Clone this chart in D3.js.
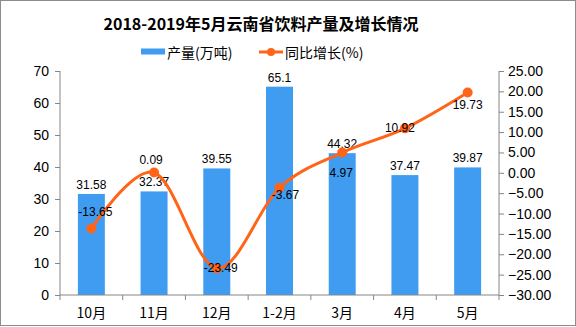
<!DOCTYPE html>
<html><head><meta charset="utf-8">
<script src="https://cdn.jsdelivr.net/npm/d3@7"></script>
<style>
body{margin:0;background:#fff;}
svg{display:block;}
text{font-family:"Liberation Sans","Noto Sans CJK SC",sans-serif;fill:#000;}
</style></head>
<body>
<svg id="c" width="576" height="327"></svg>
<script>
const title = "2018-2019年5月云南省饮料产量及增长情况";
const categories = ["10月","11月","12月","1-2月","3月","4月","5月"];
const output = [31.58, 32.37, 39.55, 65.1, 44.32, 37.47, 39.87];
const growth = [-13.65, 0.09, -23.49, -3.67, 4.97, 10.92, 19.73];
const leftTicks = [0,10,20,30,40,50,60,70];
const rightTicks = [-30,-25,-20,-15,-10,-5,0,5,10,15,20,25];
const seriesNames = ["产量(万吨)","同比增长(%)"];

const svg = d3.select("#c");
const L = 60, R = 499, T = 71, B = 295;
const barColor = "#3F9CF0", lineColor = "#FF6418", axisColor = "#868686";

svg.append("rect").attr("x",0.5).attr("y",0.5).attr("width",575).attr("height",325)
  .attr("fill","#fff").attr("stroke","#8c8c8c");

const x = d3.scaleBand().domain(categories).range([L,R]).padding(0);
const yL = d3.scaleLinear().domain([0,70]).range([B,T]);
const yR = d3.scaleLinear().domain([-30,25]).range([B,T]);

// title
svg.append("text").attr("x",261).attr("y",23).attr("text-anchor","middle")
  .attr("dominant-baseline","central").style("font-family","'Noto Sans CJK SC',sans-serif")
  .style("font-size","16px").style("font-weight","bold").text(title);

// legend
const lg = svg.append("g");
lg.append("rect").attr("x",141).attr("y",48.5).attr("width",24).attr("height",6).attr("fill",barColor);
lg.append("text").attr("x",167).attr("y",52).attr("dominant-baseline","central")
  .style("font-family","'Noto Sans CJK SC',sans-serif").style("font-size","14px").text(seriesNames[0]);
lg.append("line").attr("x1",259).attr("x2",283).attr("y1",52).attr("y2",52)
  .attr("stroke",lineColor).attr("stroke-width",3);
lg.append("circle").attr("cx",271).attr("cy",52).attr("r",4).attr("fill",lineColor);
lg.append("text").attr("x",285).attr("y",52).attr("dominant-baseline","central")
  .style("font-family","'Noto Sans CJK SC',sans-serif").style("font-size","14px").text(seriesNames[1]);

// bars
const bw = x.bandwidth()*0.43;
svg.append("g").selectAll("rect").data(output).join("rect")
  .attr("x",(d,i)=>x(categories[i])+x.bandwidth()/2-bw/2)
  .attr("y",d=>yL(d)).attr("width",bw).attr("height",d=>B-yL(d)).attr("fill",barColor);

// axes
const axL = svg.append("g").attr("transform",`translate(${L},0)`)
  .call(d3.axisLeft(yL).tickValues(leftTicks).tickSize(5).tickPadding(6).tickFormat(d3.format("d")));
const axR = svg.append("g").attr("transform",`translate(${R},0)`)
  .call(d3.axisRight(yR).tickValues(rightTicks).tickSize(5).tickPadding(4).tickFormat(d3.format(".2f")));
const axB = svg.append("g").attr("transform",`translate(0,${B})`)
  .call(d3.axisBottom(x).tickSize(0).tickPadding(13));
// boundary ticks on x-axis
const bounds = categories.map(c=>x(c)).concat([R]);
svg.append("g").selectAll("line").data(bounds).join("line")
  .attr("x1",d=>d).attr("x2",d=>d).attr("y1",B).attr("y2",B+5).attr("stroke",axisColor);
[axL,axR,axB].forEach(a=>{
  a.select(".domain").attr("stroke",axisColor);
  a.selectAll(".tick line").attr("stroke",axisColor);
  a.selectAll(".tick text").style("font-size","14px").attr("fill","#000");
});
axB.selectAll(".tick text").style("font-family","'Noto Sans CJK SC',sans-serif");
axL.select(".domain").attr("d",`M0,${B}V${T}`);
axR.select(".domain").attr("d",`M0,${B}V${T}`);
axB.select(".domain").attr("d",`M${L},0H${R}`);

// bar labels
svg.append("g").selectAll("text").data(output).join("text")
  .attr("x",(d,i)=>x(categories[i])+x.bandwidth()/2)
  .attr("y",d=>yL(d)-9).attr("text-anchor","middle").attr("dominant-baseline","central")
  .style("font-size","12px").text(d=>d);

// line
const cx = i=>x(categories[i])+x.bandwidth()/2;
const line = d3.line().x((d,i)=>cx(i)).y(d=>yR(d)).curve(d3.curveCatmullRom.alpha(0));
svg.append("path").datum(growth).attr("d",line).attr("fill","none")
  .attr("stroke",lineColor).attr("stroke-width",3);
svg.append("g").selectAll("circle").data(growth).join("circle")
  .attr("cx",(d,i)=>cx(i)).attr("cy",d=>yR(d)).attr("r",5).attr("fill",lineColor);

// line labels (placement nudges)
const ldx = [4,-3,4,6,-1,-5,0];
const ldy = [-16,-12,0,7,20,0,13];
svg.append("g").selectAll("text").data(growth).join("text")
  .attr("x",(d,i)=>cx(i)+ldx[i]).attr("y",(d,i)=>yR(d)+ldy[i])
  .attr("text-anchor","middle").attr("dominant-baseline","central")
  .style("font-size","12px").text(d=>d.toFixed(2).replace(/^(-?\d+\.\d)0$/,"$1"));
</script>
</body></html>
